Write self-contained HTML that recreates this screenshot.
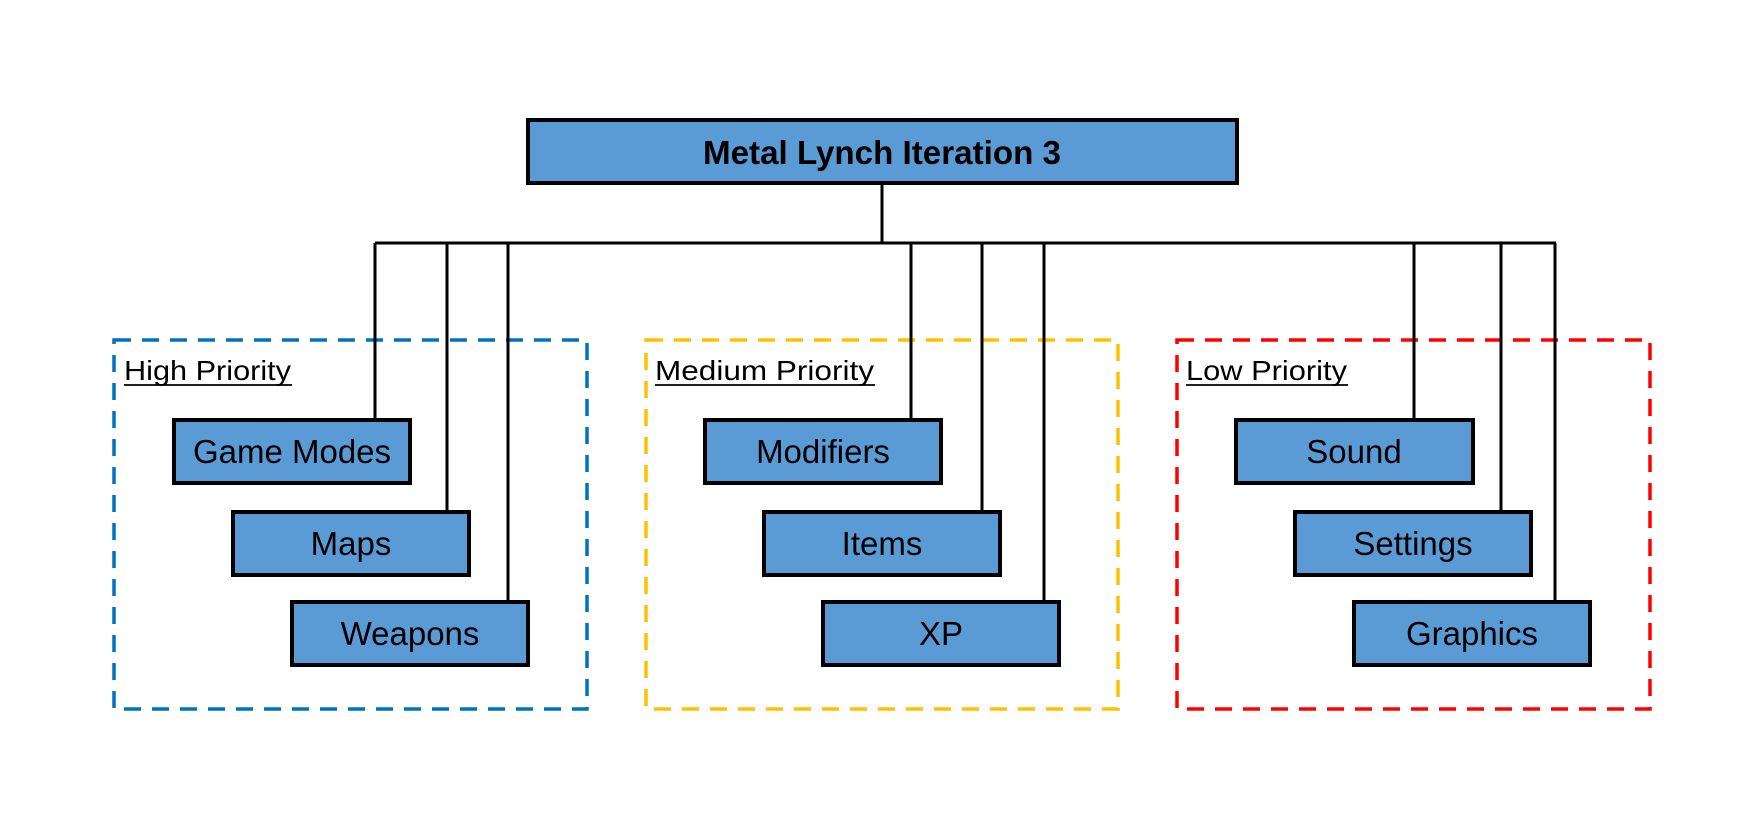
<!DOCTYPE html>
<html><head><meta charset="utf-8"><style>
html,body{margin:0;padding:0;background:#fff;}
</style></head><body>
<svg width="1754" height="827" xmlns="http://www.w3.org/2000/svg" style="display:block">
<rect width="1754" height="827" fill="#fff"/>
<g fill="none" stroke-width="3.5" stroke-dasharray="17,11">
<rect x="114" y="340" width="473" height="369" stroke="#0070C0"/>
<rect x="646" y="340" width="472" height="369" stroke="#FFC000"/>
<rect x="1177" y="340" width="473" height="369" stroke="#FF0000"/>
</g>
<g stroke="#000" stroke-width="3" fill="none">
<line x1="882" y1="184" x2="882" y2="243"/>
<line x1="375" y1="243" x2="1556" y2="243"/>
<line x1="375" y1="243" x2="375" y2="419"/>
<line x1="447" y1="243" x2="447" y2="511"/>
<line x1="508" y1="243" x2="508" y2="601"/>
<line x1="911" y1="243" x2="911" y2="419"/>
<line x1="982" y1="243" x2="982" y2="511"/>
<line x1="1044" y1="243" x2="1044" y2="601"/>
<line x1="1414" y1="243" x2="1414" y2="419"/>
<line x1="1501" y1="243" x2="1501" y2="511"/>
<line x1="1555" y1="243" x2="1555" y2="601"/>
</g>
<g fill="#5B9BD5" stroke="#000" stroke-width="4">
<rect x="528" y="120" width="709" height="63"/>
<rect x="174" y="420" width="236" height="63"/>
<rect x="233" y="512" width="236" height="63"/>
<rect x="292" y="602" width="236" height="63"/>
<rect x="705" y="420" width="236" height="63"/>
<rect x="764" y="512" width="236" height="63"/>
<rect x="823" y="602" width="236" height="63"/>
<rect x="1236" y="420" width="237" height="63"/>
<rect x="1295" y="512" width="236" height="63"/>
<rect x="1354" y="602" width="236" height="63"/>
</g>
<g font-family="Liberation Sans, sans-serif" fill="#000" text-anchor="middle" font-size="33">
<text x="882" y="164" font-weight="bold" textLength="358" lengthAdjust="spacingAndGlyphs">Metal Lynch Iteration 3</text>
<text x="292" y="463">Game Modes</text>
<text x="351" y="555">Maps</text>
<text x="410" y="645">Weapons</text>
<text x="823" y="463">Modifiers</text>
<text x="882" y="555">Items</text>
<text x="941" y="645">XP</text>
<text x="1354" y="463">Sound</text>
<text x="1413" y="555">Settings</text>
<text x="1472" y="645">Graphics</text>
</g>
<g font-family="Liberation Sans, sans-serif" fill="#000" font-size="28">
<text x="124" y="380" textLength="167" lengthAdjust="spacingAndGlyphs">High Priority</text>
<text x="655" y="380" textLength="219" lengthAdjust="spacingAndGlyphs">Medium Priority</text>
<text x="1186" y="380" textLength="161" lengthAdjust="spacingAndGlyphs">Low Priority</text>
</g>
<g stroke="#000" stroke-width="1.8">
<line x1="124" y1="385" x2="292" y2="385"/>
<line x1="655" y1="385" x2="875" y2="385"/>
<line x1="1186" y1="385" x2="1348" y2="385"/>
</g>
</svg>
</body></html>
